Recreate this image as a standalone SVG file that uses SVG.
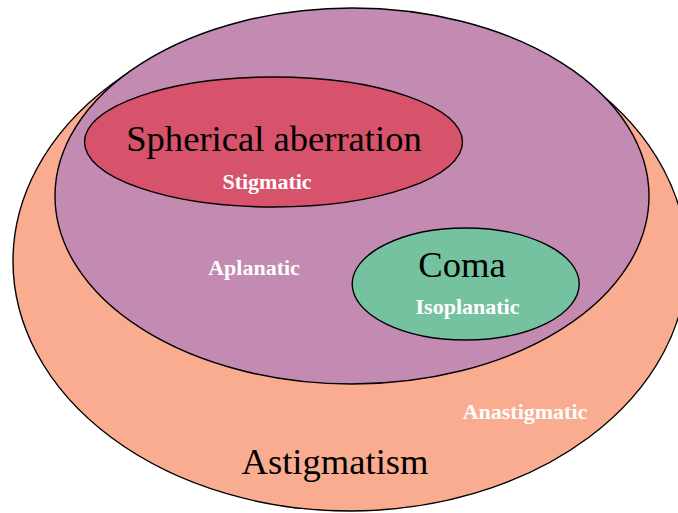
<svg xmlns="http://www.w3.org/2000/svg" width="678" height="513" viewBox="0 0 678 513">
<style>
.set{stroke:#000;stroke-width:1.4}
.big{font-family:"Liberation Serif","Times New Roman",serif;font-size:36.6px;fill:#000;text-anchor:middle}
.sub{font-family:"Liberation Serif","Times New Roman",serif;font-size:22px;font-weight:bold;fill:#fff;text-anchor:middle}
</style>
<rect width="678" height="513" fill="#fff"/>
<g id="astigmatism">
<ellipse class="set" cx="350" cy="261" rx="337" ry="250" fill="#FAAC90"/>
</g>
<g id="aplanatic">
<ellipse class="set" cx="352" cy="196" rx="297" ry="188" fill="#C38AB2"/>
</g>
<g id="spherical-aberration">
<ellipse class="set" cx="273.5" cy="142" rx="189" ry="65" fill="#D7526B"/>
<text class="big" x="274" y="151">Spherical aberration</text>
<text class="sub" x="267" y="188.5">Stigmatic</text>
</g>
<g id="coma">
<ellipse class="set" cx="465.7" cy="284" rx="113.5" ry="56" fill="#75C2A0"/>
<text class="big" x="462" y="277">Coma</text>
<text class="sub" x="467.5" y="314">Isoplanatic</text>
</g>
<g id="labels">
<text class="sub" x="254" y="275">Aplanatic</text>
<text class="sub" x="525" y="419">Anastigmatic</text>
<text class="big" x="335" y="474">Astigmatism</text>
</g>
<g id="connectors"/>
</svg>
